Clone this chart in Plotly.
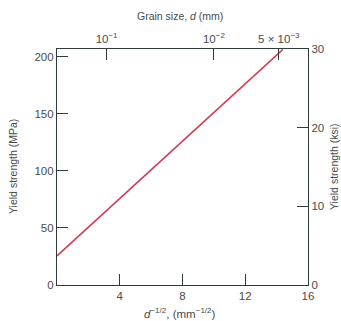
import plotly.graph_objects as go

# data
x_invsqrt_d = [0.0, 14.4]          # d^-1/2 (mm^-1/2)
yield_mpa = [25.5, 206.5]          # MPa
bottom_ticks = [4, 8, 12, 16]
left_ticks = [0, 50, 100, 150, 200]
right_ticks = [0, 10, 20, 30]
grain_sizes = [0.1, 0.01, 0.005]   # mm
grain_labels = ["10<sup>−1</sup>", "10<sup>−2</sup>", "5 × 10<sup>−3</sup>"]

KSI_TO_MPA = 6.894757
ymax_ksi = 30
ymax_mpa = ymax_ksi * KSI_TO_MPA

axis_col = "#2f3b3a"
text_col = "#4a4a4a"
font_fam = "Liberation Sans, Arial, sans-serif"

fig = go.Figure()
fig.add_trace(go.Scatter(x=x_invsqrt_d, y=yield_mpa, mode="lines",
                         line=dict(color="#d23a55", width=1.6),
                         showlegend=False, hoverinfo="skip"))
fig.add_trace(go.Scatter(x=[0], y=[0], xaxis="x2", yaxis="y2", mode="markers",
                         marker=dict(opacity=0), showlegend=False, hoverinfo="skip"))

tickfont = dict(family=font_fam, size=11.5, color=text_col)
common = dict(showline=True, linecolor=axis_col, linewidth=1.2, ticks="inside",
              ticklen=11, tickcolor=axis_col, tickwidth=1, showgrid=False,
              zeroline=False, tickfont=tickfont)

fig.update_layout(
    width=341, height=321,
    margin=dict(l=57, r=33, t=49, b=36),
    paper_bgcolor="white", plot_bgcolor="white",
    xaxis=dict(range=[0, 16], tickvals=bottom_ticks, **common),
    yaxis=dict(range=[0, ymax_mpa], tickvals=left_ticks, **common),
    xaxis2=dict(range=[0, 16], overlaying="x", side="top", anchor="y",
                tickvals=[g ** -0.5 for g in grain_sizes], ticktext=grain_labels,
                **common),
    yaxis2=dict(range=[0, ymax_ksi], overlaying="y", side="right", anchor="x",
                tickvals=right_ticks, **common),
)

titlefont = dict(family=font_fam, size=10.5, color=text_col)
fig.add_annotation(text="Grain size, <i>d</i> (mm)", xref="paper", yref="paper",
                   x=0.49, y=1, yshift=33, showarrow=False, font=titlefont,
                   xanchor="center", yanchor="middle")
fig.add_annotation(text="<i>d</i><sup>−1/2</sup>, (mm<sup>−1/2</sup>)", xref="paper", yref="paper",
                   x=0.49, y=0, yshift=-28, showarrow=False,
                   font=dict(family=font_fam, size=11.5, color=text_col),
                   xanchor="center", yanchor="middle")
fig.add_annotation(text="Yield strength (MPa)", xref="paper", yref="paper",
                   x=0, xshift=-44, y=0.5, textangle=-90, showarrow=False,
                   font=titlefont, xanchor="center", yanchor="middle")
fig.add_annotation(text="Yield strength (ksi)", xref="paper", yref="paper",
                   x=1, xshift=26, y=0.5, textangle=-90, showarrow=False,
                   font=titlefont, xanchor="center", yanchor="middle")

fig.write_html("out.html", config={"displayModeBar": False},
               post_script="document.body.style.margin='0';document.body.style.overflow='hidden';")
